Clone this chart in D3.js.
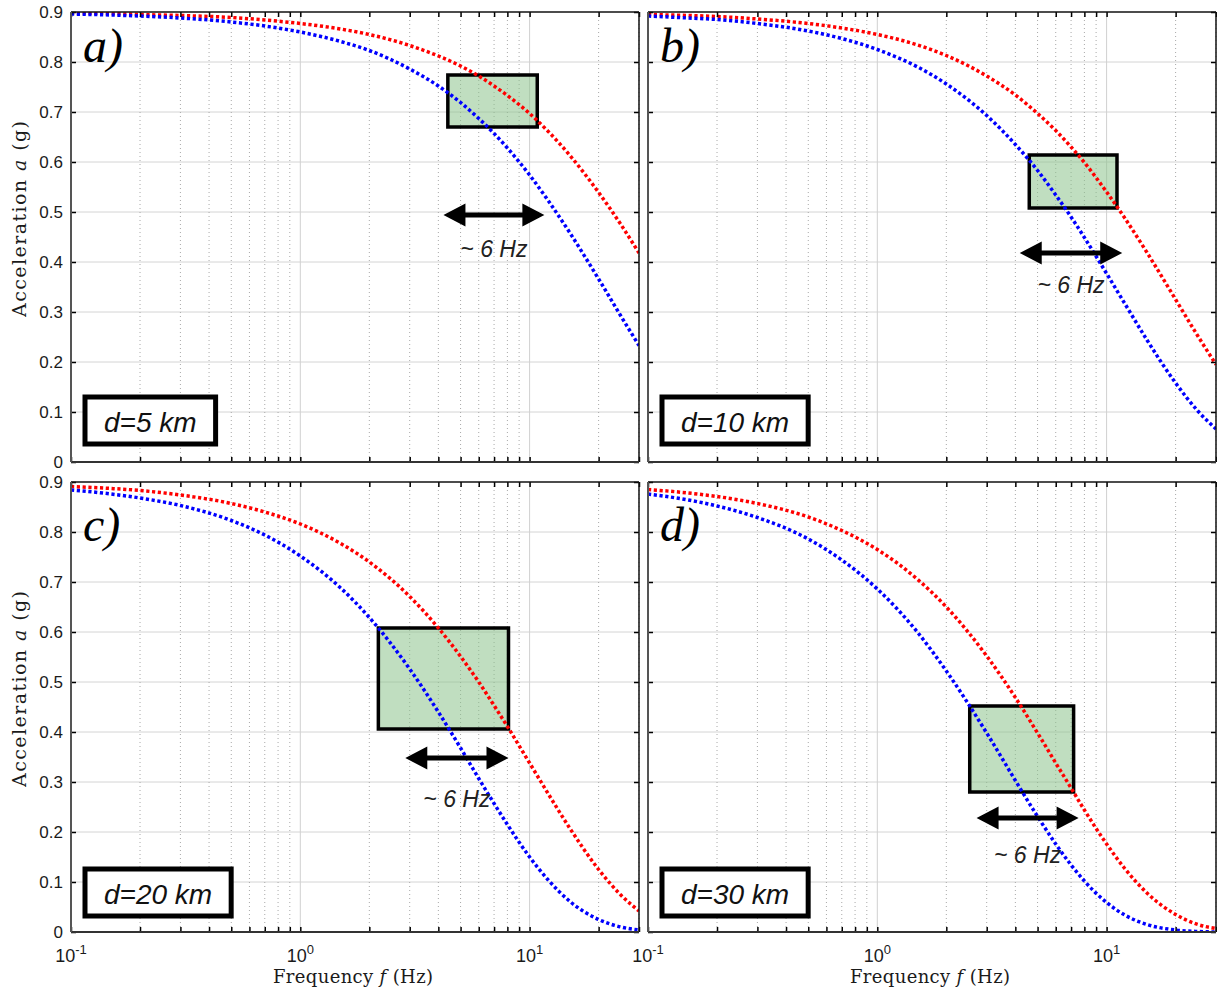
<!DOCTYPE html>
<html>
<head>
<meta charset="utf-8">
<script src="https://cdn.jsdelivr.net/npm/d3@7"></script>
<style>
  body { margin: 0; background: #fff; }
  svg { display: block; }
</style>
</head>
<body>
<svg width="1217" height="990"></svg>
<script>
var freqs = [0.1, 0.15, 0.2, 0.3, 0.5, 0.7, 1, 1.5, 2, 3, 4, 5, 6, 7, 8, 10, 12, 15, 20, 25, 30];

// acceleration (g), one array per panel and colour
var red5  = [0.898, 0.897, 0.895, 0.893, 0.889, 0.884, 0.877, 0.866, 0.855, 0.833, 0.812, 0.792, 0.772, 0.752, 0.733, 0.697, 0.662, 0.613, 0.539, 0.475, 0.418];
var blue5 = [0.896, 0.894, 0.892, 0.888, 0.880, 0.872, 0.860, 0.841, 0.823, 0.786, 0.752, 0.719, 0.687, 0.657, 0.628, 0.574, 0.524, 0.458, 0.366, 0.292, 0.233];
var red10  = [0.895, 0.893, 0.891, 0.886, 0.877, 0.868, 0.855, 0.834, 0.813, 0.772, 0.734, 0.697, 0.663, 0.630, 0.599, 0.540, 0.488, 0.419, 0.325, 0.252, 0.195];
var blue10 = [0.892, 0.888, 0.885, 0.877, 0.862, 0.847, 0.825, 0.790, 0.756, 0.693, 0.635, 0.583, 0.534, 0.490, 0.449, 0.377, 0.317, 0.244, 0.158, 0.102, 0.066];
var red20  = [0.891, 0.887, 0.883, 0.874, 0.857, 0.840, 0.816, 0.777, 0.740, 0.671, 0.608, 0.551, 0.500, 0.453, 0.411, 0.338, 0.278, 0.207, 0.125, 0.074, 0.042];
var blue20 = [0.884, 0.876, 0.868, 0.853, 0.823, 0.794, 0.752, 0.688, 0.629, 0.526, 0.440, 0.368, 0.307, 0.257, 0.215, 0.150, 0.105, 0.061, 0.025, 0.010, 0.004];
var red30  = [0.885, 0.878, 0.871, 0.857, 0.830, 0.803, 0.765, 0.705, 0.650, 0.552, 0.469, 0.398, 0.338, 0.288, 0.244, 0.176, 0.127, 0.078, 0.035, 0.015, 0.007];
var blue30 = [0.876, 0.864, 0.852, 0.829, 0.786, 0.744, 0.686, 0.599, 0.522, 0.398, 0.303, 0.231, 0.176, 0.134, 0.102, 0.059, 0.034, 0.015, 0.004, 0.001, 0.000];

var panelLetters = ["a)", "b)", "c)", "d)"];
var distLabels = ["d=5 km", "d=10 km", "d=20 km", "d=30 km"];

// shaded band: frequency range and acceleration range
var bandF0 = [4.4, 4.6, 2.19, 2.53];
var bandF1 = [10.8, 11.1, 8.09, 7.18];
var bandLo = [0.670, 0.508, 0.406, 0.280];
var bandHi = [0.774, 0.614, 0.608, 0.452];

// double arrow "~ 6 Hz"
var arrowF0 = [4.21, 4.18, 2.87, 2.71];
var arrowF1 = [11.6, 11.7, 8.09, 7.55];
var arrowA  = [0.494, 0.418, 0.348, 0.228];
var arrowText = "~ 6 Hz";

var yTicks = [0, 0.1, 0.2, 0.3, 0.4, 0.5, 0.6, 0.7, 0.8, 0.9];
var yTickLabels = ["0", "0.1", "0.2", "0.3", "0.4", "0.5", "0.6", "0.7", "0.8", "0.9"];
var xMajor = [0.1, 1, 10];
var xMajorExp = ["-1", "0", "1"];

var svg = d3.select("svg");
var w = 568, h = 450;
var panels = [
  {left: 71,  top: 12,  red: red5,  blue: blue5,  ylab: true,  xlab: false, letterY: 50, noteDy: 42, boxY: h - 65},
  {left: 648, top: 12,  red: red10, blue: blue10, ylab: false, xlab: false, letterY: 50, noteDy: 40, boxY: h - 65},
  {left: 71,  top: 482, red: red20, blue: blue20, ylab: true,  xlab: true,  letterY: 59, noteDy: 49, boxY: h - 63},
  {left: 648, top: 482, red: red30, blue: blue30, ylab: false, xlab: true,  letterY: 59, noteDy: 45, boxY: h - 63}
];

var x = d3.scaleLog().domain([0.1, 30]).range([0, w]);
var y = d3.scaleLinear().domain([0, 0.9]).range([h, 0]);

var xMinor = [];
[0.1, 1, 10].forEach(function(dec) {
  for (var m = 2; m <= 9; m++) { if (m * dec <= 30) xMinor.push(m * dec); }
});

var line = d3.line()
    .x(function(d) { return x(d.f); })
    .y(function(d) { return y(d.a); })
    .curve(d3.curveMonotoneX);

panels.forEach(function(p, i) {
  var g = svg.append("g").attr("transform", "translate(" + p.left + "," + p.top + ")");

  g.append("clipPath").attr("id", "clip" + i)
    .append("rect").attr("width", w).attr("height", h);

  // grid
  g.selectAll(".hg").data(yTicks.slice(1, -1)).enter().append("line")
      .attr("x1", 0).attr("x2", w)
      .attr("y1", function(d) { return y(d); }).attr("y2", function(d) { return y(d); })
      .attr("stroke", "#d4d4d4").attr("stroke-width", 1);
  g.selectAll(".vmin").data(xMinor).enter().append("line")
      .attr("x1", function(d) { return x(d); }).attr("x2", function(d) { return x(d); })
      .attr("y1", 0).attr("y2", h)
      .attr("stroke", "#a8a8a8").attr("stroke-width", 1).attr("stroke-dasharray", "1,3");
  g.selectAll(".vmaj").data(xMajor.slice(1)).enter().append("line")
      .attr("x1", function(d) { return x(d); }).attr("x2", function(d) { return x(d); })
      .attr("y1", 0).attr("y2", h)
      .attr("stroke", "#d0d0d0").attr("stroke-width", 1);

  // shaded band
  g.append("rect")
      .attr("x", x(bandF0[i])).attr("y", y(bandHi[i]))
      .attr("width", x(bandF1[i]) - x(bandF0[i]))
      .attr("height", y(bandLo[i]) - y(bandHi[i]))
      .attr("fill", "rgba(140,195,140,0.55)")
      .attr("stroke", "#000").attr("stroke-width", 3.5);

  // curves
  var cg = g.append("g").attr("clip-path", "url(#clip" + i + ")");
  [[p.red, "#ff0000"], [p.blue, "#0000ff"]].forEach(function(s) {
    var data = freqs.map(function(f, k) { return {f: f, a: s[0][k]}; });
    cg.append("path")
        .datum(data)
        .attr("fill", "none")
        .attr("stroke", s[1])
        .attr("stroke-width", 3.5)
        .attr("stroke-dasharray", "3.2,2.6")
        .attr("d", line);
  });

  // axes with inward ticks
  var yl = g.append("g").call(d3.axisLeft(y).tickValues(yTicks).tickSize(-5).tickPadding(8)
      .tickFormat(function(d, k) { return p.ylab ? yTickLabels[k] : ""; }));
  yl.select(".domain").remove();
  yl.selectAll("text").attr("font-family", "Liberation Sans, Arial, sans-serif")
      .attr("font-size", 17).attr("fill", "#1a1a1a");
  var yr = g.append("g").attr("transform", "translate(" + w + ",0)")
      .call(d3.axisRight(y).tickValues(yTicks).tickSize(-5).tickFormat(""));
  yr.select(".domain").remove();
  var xb = g.append("g").attr("transform", "translate(0," + h + ")")
      .call(d3.axisBottom(x).tickValues(xMajor.concat(xMinor)).tickSize(-5).tickFormat(""));
  xb.select(".domain").remove();
  var xt = g.append("g")
      .call(d3.axisTop(x).tickValues(xMajor.concat(xMinor)).tickSize(-5).tickFormat(""));
  xt.select(".domain").remove();
  g.selectAll(".tick line").attr("stroke", "#000").attr("stroke-width", 1.5);

  // frame
  g.append("line").attr("x1", 0).attr("x2", w).attr("y1", 0).attr("y2", 0)
      .attr("stroke", "#111").attr("stroke-width", 1.5);
  g.append("line").attr("x1", w).attr("x2", w).attr("y1", 0).attr("y2", h)
      .attr("stroke", "#111").attr("stroke-width", 1.5);
  g.append("line").attr("x1", 0).attr("x2", w).attr("y1", h).attr("y2", h)
      .attr("stroke", "#333").attr("stroke-width", 2);
  g.append("line").attr("x1", 0).attr("x2", 0).attr("y1", 0).attr("y2", h)
      .attr("stroke", "#555").attr("stroke-width", 2);

  // x tick labels with exponents
  if (p.xlab) {
    xMajor.forEach(function(v, k) {
      var t = g.append("text")
          .attr("x", x(v)).attr("y", h + 30)
          .attr("text-anchor", "middle")
          .attr("font-family", "Liberation Sans, Arial, sans-serif")
          .attr("font-size", 18).attr("fill", "#1a1a1a");
      t.append("tspan").text("10");
      t.append("tspan").attr("dy", -8).attr("font-size", 13).text(xMajorExp[k]);
    });
    var xl = g.append("text")
        .attr("x", w / 2 - 2).attr("y", h + 51)
        .attr("text-anchor", "middle")
        .attr("textLength", 160).attr("lengthAdjust", "spacing")
        .attr("font-family", "DejaVu Serif, serif")
        .attr("font-size", 18).attr("fill", "#1a1a1a");
    xl.append("tspan").text("Frequency ");
    xl.append("tspan").attr("font-style", "italic").text("f");
    xl.append("tspan").text(" (Hz)");
  }

  if (p.ylab) {
    var ylb = g.append("text")
        .attr("transform", "translate(-45," + (h / 2 - 18) + ") rotate(-90)")
        .attr("text-anchor", "middle")
        .attr("textLength", 196).attr("lengthAdjust", "spacing")
        .attr("font-family", "DejaVu Serif, serif")
        .attr("font-size", 19).attr("fill", "#1a1a1a");
    ylb.append("tspan").text("Acceleration ");
    ylb.append("tspan").attr("font-style", "italic").text("a");
    ylb.append("tspan").text(" (g)");
  }

  // panel letter
  g.append("text")
      .attr("x", 12).attr("y", p.letterY)
      .attr("font-family", "Liberation Serif, Times New Roman, serif")
      .attr("font-style", "italic")
      .attr("font-size", 48).attr("fill", "#000")
      .text(panelLetters[i]);

  // double arrow
  var ax0 = x(arrowF0[i]), ax1 = x(arrowF1[i]), ay = y(arrowA[i]);
  var hl = 22, hh = 11.5, t = 2.6;
  g.append("path")
      .attr("d", "M" + ax0 + "," + ay +
        "L" + (ax0 + hl) + "," + (ay - hh) + "L" + (ax0 + hl) + "," + (ay - t) +
        "L" + (ax1 - hl) + "," + (ay - t) + "L" + (ax1 - hl) + "," + (ay - hh) +
        "L" + ax1 + "," + ay +
        "L" + (ax1 - hl) + "," + (ay + hh) + "L" + (ax1 - hl) + "," + (ay + t) +
        "L" + (ax0 + hl) + "," + (ay + t) + "L" + (ax0 + hl) + "," + (ay + hh) + "Z")
      .attr("fill", "#000");
  g.append("text")
      .attr("x", (ax0 + ax1) / 2).attr("y", ay + p.noteDy)
      .attr("text-anchor", "middle")
      .attr("font-family", "Liberation Sans, Arial, sans-serif")
      .attr("font-style", "italic")
      .attr("font-size", 23).attr("fill", "#222")
      .text(arrowText);

  // distance label box
  var box = g.append("rect")
      .attr("x", 14).attr("y", p.boxY).attr("height", 47)
      .attr("fill", "#fff").attr("stroke", "#000").attr("stroke-width", 5);
  var lt = g.append("text")
      .attr("x", 33).attr("y", p.boxY + 35)
      .attr("font-family", "Liberation Sans, Arial, sans-serif")
      .attr("font-style", "italic")
      .attr("font-size", 28).attr("fill", "#111")
      .text(distLabels[i]);
  box.attr("width", lt.node().getComputedTextLength() + 38);
});
</script>
</body>
</html>
